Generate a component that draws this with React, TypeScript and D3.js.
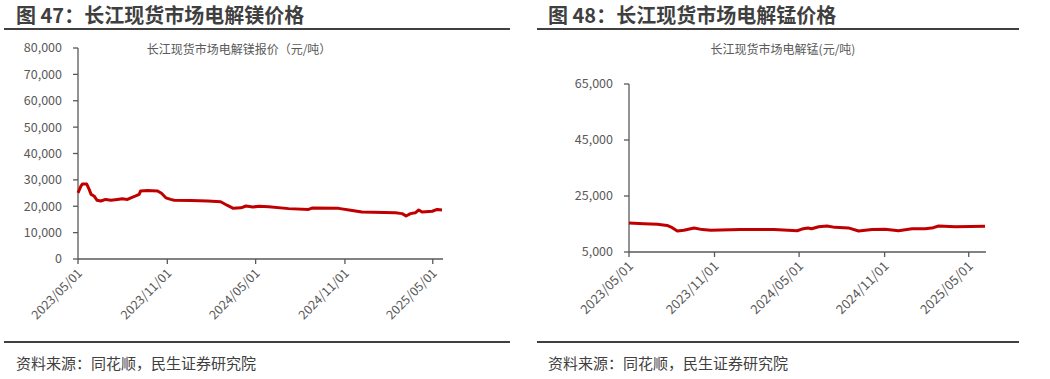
import React from "react";
import * as d3 from "d3";

// ---------- data ----------
const MG_DATES = [
  "2023-05-01", "2023-05-07", "2023-05-10", "2023-05-19", "2023-05-24", "2023-05-28",
  "2023-06-03", "2023-06-09", "2023-06-17", "2023-06-27", "2023-07-08", "2023-07-21",
  "2023-07-31", "2023-08-11", "2023-08-18", "2023-08-28", "2023-09-04", "2023-09-07",
  "2023-09-21", "2023-10-12", "2023-10-20", "2023-10-29", "2023-11-08", "2023-11-15",
  "2023-12-20", "2024-01-23", "2024-02-19", "2024-03-04", "2024-03-16", "2024-04-01",
  "2024-04-11", "2024-04-25", "2024-05-08", "2024-05-28", "2024-07-08", "2024-08-18",
  "2024-08-25", "2024-10-19", "2024-11-16", "2024-12-06", "2025-02-13", "2025-02-27",
  "2025-03-07", "2025-03-16", "2025-03-26", "2025-04-02", "2025-04-09", "2025-04-30",
  "2025-05-10", "2025-05-20",
];
const MG_VALUES = [
  25100, 27600, 28400, 28400, 26400, 24500,
  23900, 22300, 22000, 22600, 22300, 22600,
  22800, 22600, 23200, 23900, 24500, 25800,
  26000, 25800, 24900, 23200, 22600, 22300,
  22200, 22000, 21700, 20300, 19200, 19400,
  20100, 19700, 20000, 19800, 19100, 18800,
  19300, 19200, 18400, 17800, 17500, 17200,
  16300, 17200, 17500, 18600, 17800, 18100,
  18800, 18600,
];

const MN_DATES = [
  "2023-05-01", "2023-06-02", "2023-07-01", "2023-07-22", "2023-08-02", "2023-08-13",
  "2023-08-27", "2023-09-18", "2023-10-06", "2023-10-24", "2023-12-27", "2024-03-08",
  "2024-04-27", "2024-05-07", "2024-05-20", "2024-05-28", "2024-06-12", "2024-06-30",
  "2024-07-17", "2024-08-15", "2024-09-06", "2024-10-05", "2024-11-02", "2024-12-01",
  "2024-12-30", "2025-01-27", "2025-02-14", "2025-02-25", "2025-04-02", "2025-06-05",
];
const MN_VALUES = [
  15400, 15100, 14900, 14500, 13700, 12500,
  12750, 13600, 13000, 12750, 13000, 13000,
  12600, 13200, 13600, 13300, 14000, 14300,
  13800, 13600, 12500, 13000, 13100, 12600,
  13300, 13300, 13700, 14300, 14000, 14200,
];

const MG_Y_TICKS = [0, 10000, 20000, 30000, 40000, 50000, 60000, 70000, 80000];
const MN_Y_TICKS = [5000, 25000, 45000, 65000];
const X_TICK_LABELS = ["2023/05/01", "2023/11/01", "2024/05/01", "2024/11/01", "2025/05/01"];

const MG_TITLE = "图 47：长江现货市场电解镁价格";
const MN_TITLE = "图 48：长江现货市场电解锰价格";
const MG_SUBTITLE = "长江现货市场电解镁报价（元/吨）";
const MN_SUBTITLE = "长江现货市场电解锰(元/吨)";
const SOURCE = "资料来源：同花顺，民生证券研究院";

// ---------- rendering ----------
const FONT = "'Noto Sans CJK SC', 'Noto Sans', sans-serif";
const AXIS = "#595959";
const TEXT = "#595959";
const LINE = "#C00000";

const parseDash = d3.timeParse("%Y-%m-%d");
const parseSlash = d3.timeParse("%Y/%m/%d");
const fmt = d3.format(",");

type PanelProps = {
  title: string;
  subtitle: string;
  dates: string[];
  values: number[];
  yTicks: number[];
  xLabels: string[];
  titleX: number;
  divX1: number;
  divX2: number;
  subX: number;
  axisX: number;
  xEnd: number;
  yTop: number;
  yBottom: number;
  xFont: number;
};

function Panel(p: PanelProps) {
  const pts = p.dates.map((d, i) => ({ date: parseDash(d) as Date, v: p.values[i] }));
  const x = d3
    .scaleTime()
    .domain([pts[0].date, pts[pts.length - 1].date])
    .range([p.axisX, p.xEnd]);
  const y = d3
    .scaleLinear()
    .domain([p.yTicks[0], p.yTicks[p.yTicks.length - 1]])
    .range([p.yBottom, p.yTop]);
  const line = d3
    .line<{ date: Date; v: number }>()
    .x((d) => x(d.date))
    .y((d) => y(d.v))
    .curve(d3.curveLinear);

  return (
    <g fontFamily={FONT}>
      <text x={p.titleX} y={23} fontSize={20} fontWeight={700} fill="#3f3f3f">
        {p.title}
      </text>
      <line x1={p.divX1} x2={p.divX2} y1={29} y2={29} stroke="#404040" strokeWidth={2} />
      <text x={p.subX} y={54} fontSize={12} fill={TEXT} textAnchor="middle">
        {p.subtitle}
      </text>

      {/* y axis */}
      <line x1={p.axisX} x2={p.axisX} y1={p.yTop} y2={p.yBottom} stroke={AXIS} strokeWidth={1.3} />
      {p.yTicks.map((t) => (
        <g key={t}>
          <line x1={p.axisX - 5} x2={p.axisX} y1={y(t)} y2={y(t)} stroke={AXIS} strokeWidth={1.3} />
          <text
            x={p.axisX - 16}
            y={y(t)}
            dy="0.35em"
            fontSize={12.5}
            fill={TEXT}
            textAnchor="end"
          >
            {fmt(t)}
          </text>
        </g>
      ))}

      {/* x axis */}
      <line x1={p.axisX} x2={p.xEnd + 1} y1={p.yBottom} y2={p.yBottom} stroke={AXIS} strokeWidth={1.3} />
      {p.xLabels.map((lab) => {
        const xx = x(parseSlash(lab) as Date);
        return (
          <g key={lab}>
            <line x1={xx} x2={xx} y1={p.yBottom} y2={p.yBottom + 5} stroke={AXIS} strokeWidth={1.3} />
            <text
              transform={`translate(${xx + 5},${p.yBottom + 15}) rotate(-45)`}
              fontSize={p.xFont}
              fill={TEXT}
              textAnchor="end"
            >
              {lab}
            </text>
          </g>
        );
      })}

      <path d={line(pts) || ""} fill="none" stroke={LINE} strokeWidth={3} strokeLinejoin="round" />

      <line x1={p.divX1} x2={p.divX2} y1={342} y2={342} stroke="#404040" strokeWidth={2} />
      <text x={p.titleX} y={369} fontSize={15} fill="#404040">
        {SOURCE}
      </text>
    </g>
  );
}

export default function App() {
  return (
    <svg
      width={1050}
      height={379}
      style={{ position: "absolute", left: 0, top: 0, background: "#fff" }}
    >
      <rect width={1050} height={379} fill="#fff" />
      <Panel
        title={MG_TITLE}
        subtitle={MG_SUBTITLE}
        dates={MG_DATES}
        values={MG_VALUES}
        yTicks={MG_Y_TICKS}
        xLabels={X_TICK_LABELS}
        titleX={16}
        divX1={4}
        divX2={510}
        subX={239}
        axisX={78}
        xEnd={442}
        yTop={48}
        yBottom={259}
        xFont={12.5}
      />
      <Panel
        title={MN_TITLE}
        subtitle={MN_SUBTITLE}
        dates={MN_DATES}
        values={MN_VALUES}
        yTicks={MN_Y_TICKS}
        xLabels={X_TICK_LABELS}
        titleX={548}
        divX1={537}
        divX2={1019}
        subX={783}
        axisX={629}
        xEnd={985}
        yTop={84}
        yBottom={252}
        xFont={13}
      />
    </svg>
  );
}
